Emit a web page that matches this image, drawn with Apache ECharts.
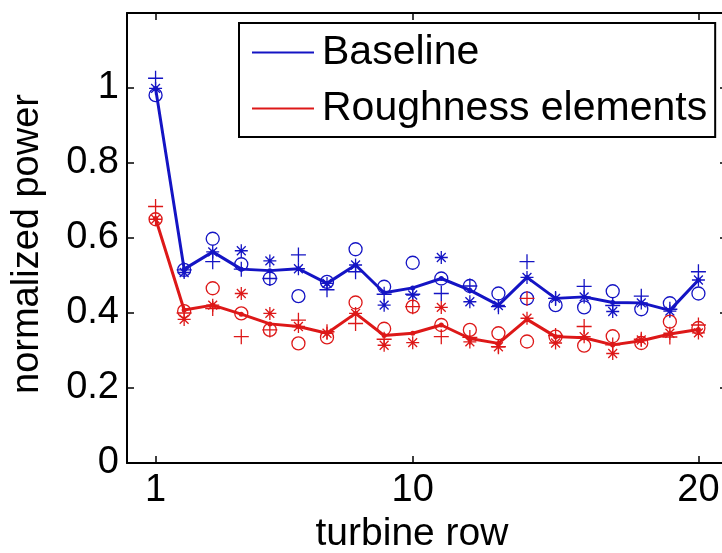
<!DOCTYPE html>
<html>
<head>
<meta charset="utf-8">
<script src="https://cdn.jsdelivr.net/npm/echarts@6/dist/echarts.min.js"></script>
<style>html,body{margin:0;padding:0;background:#fff}#c{width:722px;height:553px}</style>
</head>
<body>
<div id="c"></div>
<script>
var rows = [1,2,3,4,5,6,7,8,9,10,11,12,13,14,15,16,17,18,19,20];
var xTicks = [1, 10, 20];
var yTicks = [0, 0.2, 0.4, 0.6, 0.8, 1];

var baselineLine   = [0.999,0.517,0.563,0.517,0.513,0.518,0.479,0.528,0.454,0.467,0.492,0.461,0.421,0.495,0.439,0.443,0.428,0.427,0.407,0.488];
var baselineCircle = [0.981,0.515,0.598,0.530,0.492,0.445,0.483,0.570,0.470,0.534,0.492,0.472,0.452,0.439,0.421,0.415,0.458,0.410,0.426,0.452];
var baselinePlus   = [1.026,0.515,0.537,0.517,0.492,0.555,0.462,0.510,0.450,0.450,0.452,0.472,0.417,0.537,0.439,0.471,0.420,0.445,0.410,0.510];
var baselineStar   = [0.999,0.508,0.563,0.566,0.539,0.518,0.479,0.528,0.421,0.448,0.548,0.430,0.420,0.495,0.439,0.443,0.404,0.427,0.405,0.488];

var roughLine   = [0.652,0.408,0.421,0.397,0.371,0.364,0.346,0.399,0.340,0.346,0.368,0.332,0.319,0.383,0.337,0.334,0.315,0.326,0.344,0.356];
var roughCircle = [0.650,0.405,0.466,0.399,0.355,0.319,0.335,0.428,0.358,0.417,0.368,0.355,0.346,0.324,0.337,0.313,0.338,0.320,0.377,0.360];
var roughPlus   = [0.684,0.400,0.412,0.337,0.355,0.381,0.350,0.372,0.330,0.417,0.337,0.335,0.310,0.439,0.340,0.364,0.315,0.330,0.336,0.368];
var roughStar   = [0.650,0.383,0.421,0.452,0.399,0.364,0.346,0.399,0.314,0.321,0.415,0.323,0.310,0.386,0.320,0.337,0.292,0.328,0.346,0.347];

var BLUE = '#1414c4';
var RED = '#dd1818';
var FONT = 'Liberation Sans';
var PLUS = 'path://M5,0L5,10M0,5L10,5';
var STAR = 'path://M5,0L5,10M0,5L10,5M1.6,1.6L8.4,8.4M1.6,8.4L8.4,1.6';

function pairs(ys) { return rows.map(function (x, i) { return [x, ys[i]]; }); }

function marker(name, ys, color, symbol, size) {
  return {
    name: name, type: 'scatter', data: pairs(ys), symbol: symbol, symbolSize: size,
    itemStyle: { color: 'rgba(0,0,0,0)', opacity: 1, borderColor: color, borderWidth: 1.3 },
    emphasis: { disabled: true }, z: 3
  };
}
function line(name, ys, color) {
  return {
    name: name, type: 'line', data: pairs(ys), symbol: 'circle', symbolSize: 5,
    lineStyle: { color: color, width: 3 }, itemStyle: { color: color },
    emphasis: { disabled: true }, z: 4
  };
}

var axisLine = { show: true, onZero: false, lineStyle: { color: '#000', width: 2 } };
var tickStyle = { color: '#000', width: 1.5 };
var chart = echarts.init(document.getElementById('c'), null, { renderer: 'canvas' });
chart.setOption({
  animation: false,
  backgroundColor: '#fff',
  grid: { left: 127, right: -5, top: 13, bottom: 90, containLabel: false, outerBoundsMode: 'none' },
  legend: {
    data: ['Baseline', 'Roughness elements'],
    orient: 'vertical', left: 239, top: 23,
    icon: 'rect', itemWidth: 62, itemHeight: 2, itemGap: 15,
    padding: [9, 8, 8, 13],
    borderColor: '#000', borderWidth: 2, backgroundColor: '#fff',
    textStyle: { fontSize: 41, fontFamily: FONT, color: '#000', padding: [0, 0, 0, 3] },
    z: 10
  },
  xAxis: [{
    type: 'value', min: 0, max: 21, position: 'bottom',
    name: 'turbine row', nameLocation: 'middle', nameGap: 50,
    nameTextStyle: { fontSize: 39, fontFamily: FONT, color: '#000', padding: [0, 30, 0, 0] },
    axisLine: axisLine,
    axisTick: { show: true, inside: true, length: 7, customValues: xTicks, lineStyle: tickStyle },
    axisLabel: { customValues: xTicks, fontSize: 38, fontFamily: FONT, color: '#000', margin: 9 },
    splitLine: { show: false }
  }, {
    type: 'value', min: 0, max: 21, position: 'top',
    axisLine: axisLine,
    axisTick: { show: true, inside: true, length: 7, customValues: xTicks, lineStyle: tickStyle },
    axisLabel: { show: false }, splitLine: { show: false }
  }],
  yAxis: [{
    type: 'value', min: 0, max: 1.2, interval: 0.2, position: 'left',
    name: 'normalized power', nameLocation: 'middle', nameGap: 80,
    nameTextStyle: { fontSize: 38, fontFamily: FONT, color: '#000', padding: [0, 12, 0, 0] },
    axisLine: axisLine,
    axisTick: { show: true, inside: true, length: 7, customValues: yTicks, lineStyle: tickStyle },
    axisLabel: { customValues: yTicks, fontSize: 38, fontFamily: FONT, color: '#000', margin: 8,
      formatter: function (v) { return String(+v.toFixed(1)); } },
    splitLine: { show: false }
  }, {
    type: 'value', min: 0, max: 1.2, interval: 0.2, position: 'right',
    axisLine: axisLine,
    axisTick: { show: true, inside: true, length: 7, customValues: yTicks, lineStyle: tickStyle },
    axisLabel: { show: false }, splitLine: { show: false }
  }],
  series: [
    marker('b-circle', baselineCircle, BLUE, 'circle', 13),
    marker('b-plus', baselinePlus, BLUE, PLUS, 15),
    marker('b-star', baselineStar, BLUE, STAR, 13),
    marker('r-circle', roughCircle, RED, 'circle', 13),
    marker('r-plus', roughPlus, RED, PLUS, 15),
    marker('r-star', roughStar, RED, STAR, 13),
    line('Baseline', baselineLine, BLUE),
    line('Roughness elements', roughLine, RED)
  ]
});
</script>
</body>
</html>
